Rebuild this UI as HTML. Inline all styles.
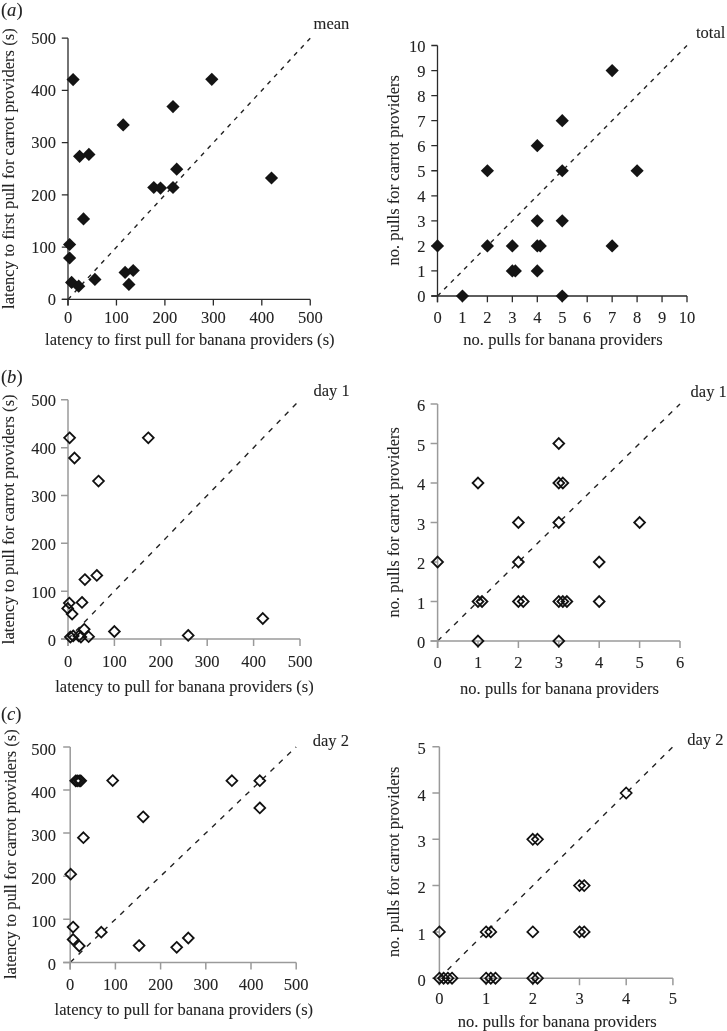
<!DOCTYPE html>
<html><head><meta charset="utf-8"><style>
html,body{margin:0;padding:0;background:#fff;}
svg{display:block;filter:grayscale(1);font-family:"Liberation Serif",serif;fill:#222;}
text{stroke:#222;stroke-width:0.08px;}
</style></head><body>
<svg width="727" height="1031" viewBox="0 0 727 1031">
<rect width="727" height="1031" fill="#fff"/>
<g>
<line x1="68.0" y1="299.4" x2="310.25" y2="38.15" stroke="#222" stroke-width="1.4" stroke-dasharray="4.4 5.38"/>
<path d="M61.80,299.4H310.25M68.0,38.15V305.60" stroke="#2a2a2a" stroke-width="1.3" fill="none"/>
<path d="M68.00,299.4v6.2M116.45,299.4v6.2M164.90,299.4v6.2M213.35,299.4v6.2M261.80,299.4v6.2M310.25,299.4v6.2M61.80,299.40h6.2M61.80,247.15h6.2M61.80,194.90h6.2M61.80,142.65h6.2M61.80,90.40h6.2M61.80,38.15h6.2" stroke="#2a2a2a" stroke-width="1.3" fill="none"/>
<text x="68.00" y="322.7" text-anchor="middle" font-size="16.5">0</text>
<text x="116.45" y="322.7" text-anchor="middle" font-size="16.5">100</text>
<text x="164.90" y="322.7" text-anchor="middle" font-size="16.5">200</text>
<text x="213.35" y="322.7" text-anchor="middle" font-size="16.5">300</text>
<text x="261.80" y="322.7" text-anchor="middle" font-size="16.5">400</text>
<text x="310.25" y="322.7" text-anchor="middle" font-size="16.5">500</text>
<text x="55.90" y="305.20" text-anchor="end" font-size="16.5">0</text>
<text x="55.90" y="252.95" text-anchor="end" font-size="16.5">100</text>
<text x="55.90" y="200.70" text-anchor="end" font-size="16.5">200</text>
<text x="55.90" y="148.45" text-anchor="end" font-size="16.5">300</text>
<text x="55.90" y="96.20" text-anchor="end" font-size="16.5">400</text>
<text x="55.90" y="43.95" text-anchor="end" font-size="16.5">500</text>
<path d="M73.10,73.00L79.70,79.60L73.10,86.20L66.50,79.60Z" fill="#141414"/>
<path d="M211.80,72.70L218.40,79.30L211.80,85.90L205.20,79.30Z" fill="#141414"/>
<path d="M173.00,100.00L179.60,106.60L173.00,113.20L166.40,106.60Z" fill="#141414"/>
<path d="M123.20,118.30L129.80,124.90L123.20,131.50L116.60,124.90Z" fill="#141414"/>
<path d="M79.60,149.70L86.20,156.30L79.60,162.90L73.00,156.30Z" fill="#141414"/>
<path d="M88.90,147.80L95.50,154.40L88.90,161.00L82.30,154.40Z" fill="#141414"/>
<path d="M176.70,162.60L183.30,169.20L176.70,175.80L170.10,169.20Z" fill="#141414"/>
<path d="M153.80,180.90L160.40,187.50L153.80,194.10L147.20,187.50Z" fill="#141414"/>
<path d="M160.50,181.50L167.10,188.10L160.50,194.70L153.90,188.10Z" fill="#141414"/>
<path d="M173.00,180.90L179.60,187.50L173.00,194.10L166.40,187.50Z" fill="#141414"/>
<path d="M271.50,171.40L278.10,178.00L271.50,184.60L264.90,178.00Z" fill="#141414"/>
<path d="M83.50,212.30L90.10,218.90L83.50,225.50L76.90,218.90Z" fill="#141414"/>
<path d="M69.60,237.90L76.20,244.50L69.60,251.10L63.00,244.50Z" fill="#141414"/>
<path d="M69.60,251.40L76.20,258.00L69.60,264.60L63.00,258.00Z" fill="#141414"/>
<path d="M71.60,275.80L78.20,282.40L71.60,289.00L65.00,282.40Z" fill="#141414"/>
<path d="M78.70,279.60L85.30,286.20L78.70,292.80L72.10,286.20Z" fill="#141414"/>
<path d="M94.90,272.80L101.50,279.40L94.90,286.00L88.30,279.40Z" fill="#141414"/>
<path d="M125.10,265.80L131.70,272.40L125.10,279.00L118.50,272.40Z" fill="#141414"/>
<path d="M133.20,263.90L139.80,270.50L133.20,277.10L126.60,270.50Z" fill="#141414"/>
<path d="M128.90,277.80L135.50,284.40L128.90,291.00L122.30,284.40Z" fill="#141414"/>
<text x="45.0" y="344.8" textLength="289.6" lengthAdjust="spacing" font-size="16.5">latency to first pull for banana providers (s)</text>
<text transform="translate(14.1,308.9) rotate(-90)" textLength="280.6" lengthAdjust="spacing" font-size="16.5">latency to first pull for carrot providers (s)</text>
<text x="313.6" y="28.9" font-size="16.5">mean</text>
</g>
<g>
<line x1="437.5" y1="296.0" x2="687.00" y2="45.50" stroke="#222" stroke-width="1.4" stroke-dasharray="4.3 5.14"/>
<path d="M431.30,296.0H687.00M437.5,45.50V302.20" stroke="#2a2a2a" stroke-width="1.3" fill="none"/>
<path d="M437.50,296.0v6.2M462.45,296.0v6.2M487.40,296.0v6.2M512.35,296.0v6.2M537.30,296.0v6.2M562.25,296.0v6.2M587.20,296.0v6.2M612.15,296.0v6.2M637.10,296.0v6.2M662.05,296.0v6.2M687.00,296.0v6.2M431.30,296.00h6.2M431.30,270.95h6.2M431.30,245.90h6.2M431.30,220.85h6.2M431.30,195.80h6.2M431.30,170.75h6.2M431.30,145.70h6.2M431.30,120.65h6.2M431.30,95.60h6.2M431.30,70.55h6.2M431.30,45.50h6.2" stroke="#2a2a2a" stroke-width="1.3" fill="none"/>
<text x="437.50" y="323.0" text-anchor="middle" font-size="16.5">0</text>
<text x="462.45" y="323.0" text-anchor="middle" font-size="16.5">1</text>
<text x="487.40" y="323.0" text-anchor="middle" font-size="16.5">2</text>
<text x="512.35" y="323.0" text-anchor="middle" font-size="16.5">3</text>
<text x="537.30" y="323.0" text-anchor="middle" font-size="16.5">4</text>
<text x="562.25" y="323.0" text-anchor="middle" font-size="16.5">5</text>
<text x="587.20" y="323.0" text-anchor="middle" font-size="16.5">6</text>
<text x="612.15" y="323.0" text-anchor="middle" font-size="16.5">7</text>
<text x="637.10" y="323.0" text-anchor="middle" font-size="16.5">8</text>
<text x="662.05" y="323.0" text-anchor="middle" font-size="16.5">9</text>
<text x="687.00" y="323.0" text-anchor="middle" font-size="16.5">10</text>
<text x="425.50" y="302.40" text-anchor="end" font-size="16.5">0</text>
<text x="425.50" y="277.35" text-anchor="end" font-size="16.5">1</text>
<text x="425.50" y="252.30" text-anchor="end" font-size="16.5">2</text>
<text x="425.50" y="227.25" text-anchor="end" font-size="16.5">3</text>
<text x="425.50" y="202.20" text-anchor="end" font-size="16.5">4</text>
<text x="425.50" y="177.15" text-anchor="end" font-size="16.5">5</text>
<text x="425.50" y="152.10" text-anchor="end" font-size="16.5">6</text>
<text x="425.50" y="127.05" text-anchor="end" font-size="16.5">7</text>
<text x="425.50" y="102.00" text-anchor="end" font-size="16.5">8</text>
<text x="425.50" y="76.95" text-anchor="end" font-size="16.5">9</text>
<text x="425.50" y="51.90" text-anchor="end" font-size="16.5">10</text>
<path d="M437.50,239.30L444.10,245.90L437.50,252.50L430.90,245.90Z" fill="#141414"/>
<path d="M462.45,289.40L469.05,296.00L462.45,302.60L455.85,296.00Z" fill="#141414"/>
<path d="M487.40,164.15L494.00,170.75L487.40,177.35L480.80,170.75Z" fill="#141414"/>
<path d="M487.40,239.30L494.00,245.90L487.40,252.50L480.80,245.90Z" fill="#141414"/>
<path d="M512.35,239.30L518.95,245.90L512.35,252.50L505.75,245.90Z" fill="#141414"/>
<path d="M512.35,264.35L518.95,270.95L512.35,277.55L505.75,270.95Z" fill="#141414"/>
<path d="M515.34,264.35L521.94,270.95L515.34,277.55L508.74,270.95Z" fill="#141414"/>
<path d="M537.30,139.10L543.90,145.70L537.30,152.30L530.70,145.70Z" fill="#141414"/>
<path d="M537.30,214.25L543.90,220.85L537.30,227.45L530.70,220.85Z" fill="#141414"/>
<path d="M537.30,239.30L543.90,245.90L537.30,252.50L530.70,245.90Z" fill="#141414"/>
<path d="M540.29,239.30L546.89,245.90L540.29,252.50L533.69,245.90Z" fill="#141414"/>
<path d="M537.30,264.35L543.90,270.95L537.30,277.55L530.70,270.95Z" fill="#141414"/>
<path d="M562.25,114.05L568.85,120.65L562.25,127.25L555.65,120.65Z" fill="#141414"/>
<path d="M562.25,164.15L568.85,170.75L562.25,177.35L555.65,170.75Z" fill="#141414"/>
<path d="M562.25,214.25L568.85,220.85L562.25,227.45L555.65,220.85Z" fill="#141414"/>
<path d="M562.25,289.40L568.85,296.00L562.25,302.60L555.65,296.00Z" fill="#141414"/>
<path d="M612.15,63.95L618.75,70.55L612.15,77.15L605.55,70.55Z" fill="#141414"/>
<path d="M612.15,239.30L618.75,245.90L612.15,252.50L605.55,245.90Z" fill="#141414"/>
<path d="M637.10,164.15L643.70,170.75L637.10,177.35L630.50,170.75Z" fill="#141414"/>
<text x="463.2" y="344.7" textLength="199.4" lengthAdjust="spacing" font-size="16.5">no. pulls for banana providers</text>
<text transform="translate(398.6,265.6) rotate(-90)" textLength="190.6" lengthAdjust="spacing" font-size="16.5">no. pulls for carrot providers</text>
<text x="696.0" y="37.6" font-size="16.5">total</text>
</g>
<g>
<line x1="68.0" y1="639.0" x2="300.00" y2="399.80" stroke="#222" stroke-width="1.4" stroke-dasharray="5.3 6.23"/>
<path d="M61.00,639.0H300.00M68.0,399.80V646.00" stroke="#9a9a9a" stroke-width="1.5" fill="none"/>
<path d="M68.00,639.0v7.0M114.40,639.0v7.0M160.80,639.0v7.0M207.20,639.0v7.0M253.60,639.0v7.0M300.00,639.0v7.0M61.00,639.00h7.0M61.00,591.16h7.0M61.00,543.32h7.0M61.00,495.48h7.0M61.00,447.64h7.0M61.00,399.80h7.0" stroke="#9a9a9a" stroke-width="1.5" fill="none"/>
<text x="68.00" y="666.9" text-anchor="middle" font-size="16.5">0</text>
<text x="114.40" y="666.9" text-anchor="middle" font-size="16.5">100</text>
<text x="160.80" y="666.9" text-anchor="middle" font-size="16.5">200</text>
<text x="207.20" y="666.9" text-anchor="middle" font-size="16.5">300</text>
<text x="253.60" y="666.9" text-anchor="middle" font-size="16.5">400</text>
<text x="300.00" y="666.9" text-anchor="middle" font-size="16.5">500</text>
<text x="55.90" y="645.60" text-anchor="end" font-size="16.5">0</text>
<text x="55.90" y="597.76" text-anchor="end" font-size="16.5">100</text>
<text x="55.90" y="549.92" text-anchor="end" font-size="16.5">200</text>
<text x="55.90" y="502.08" text-anchor="end" font-size="16.5">300</text>
<text x="55.90" y="454.24" text-anchor="end" font-size="16.5">400</text>
<text x="55.90" y="406.40" text-anchor="end" font-size="16.5">500</text>
<path d="M69.60,432.40L75.00,437.80L69.60,443.20L64.20,437.80Z" fill="none" stroke="#111" stroke-width="1.8" stroke-linejoin="miter"/>
<path d="M148.30,432.40L153.70,437.80L148.30,443.20L142.90,437.80Z" fill="none" stroke="#111" stroke-width="1.8" stroke-linejoin="miter"/>
<path d="M74.50,452.60L79.90,458.00L74.50,463.40L69.10,458.00Z" fill="none" stroke="#111" stroke-width="1.8" stroke-linejoin="miter"/>
<path d="M98.50,475.70L103.90,481.10L98.50,486.50L93.10,481.10Z" fill="none" stroke="#111" stroke-width="1.8" stroke-linejoin="miter"/>
<path d="M84.90,574.20L90.30,579.60L84.90,585.00L79.50,579.60Z" fill="none" stroke="#111" stroke-width="1.8" stroke-linejoin="miter"/>
<path d="M96.80,570.00L102.20,575.40L96.80,580.80L91.40,575.40Z" fill="none" stroke="#111" stroke-width="1.8" stroke-linejoin="miter"/>
<path d="M82.00,597.00L87.40,602.40L82.00,607.80L76.60,602.40Z" fill="none" stroke="#111" stroke-width="1.8" stroke-linejoin="miter"/>
<path d="M69.30,597.70L74.70,603.10L69.30,608.50L63.90,603.10Z" fill="none" stroke="#111" stroke-width="1.8" stroke-linejoin="miter"/>
<path d="M67.70,603.00L73.10,608.40L67.70,613.80L62.30,608.40Z" fill="none" stroke="#111" stroke-width="1.8" stroke-linejoin="miter"/>
<path d="M72.10,608.70L77.50,614.10L72.10,619.50L66.70,614.10Z" fill="none" stroke="#111" stroke-width="1.8" stroke-linejoin="miter"/>
<path d="M114.40,626.10L119.80,631.50L114.40,636.90L109.00,631.50Z" fill="none" stroke="#111" stroke-width="1.8" stroke-linejoin="miter"/>
<path d="M84.20,623.90L89.60,629.30L84.20,634.70L78.80,629.30Z" fill="none" stroke="#111" stroke-width="1.8" stroke-linejoin="miter"/>
<path d="M88.60,631.30L94.00,636.70L88.60,642.10L83.20,636.70Z" fill="none" stroke="#111" stroke-width="1.8" stroke-linejoin="miter"/>
<path d="M70.40,631.60L75.80,637.00L70.40,642.40L65.00,637.00Z" fill="none" stroke="#111" stroke-width="1.8" stroke-linejoin="miter"/>
<path d="M73.20,630.50L78.60,635.90L73.20,641.30L67.80,635.90Z" fill="none" stroke="#111" stroke-width="1.8" stroke-linejoin="miter"/>
<path d="M78.70,630.50L84.10,635.90L78.70,641.30L73.30,635.90Z" fill="none" stroke="#111" stroke-width="1.8" stroke-linejoin="miter"/>
<path d="M80.90,631.60L86.30,637.00L80.90,642.40L75.50,637.00Z" fill="none" stroke="#111" stroke-width="1.8" stroke-linejoin="miter"/>
<path d="M188.20,630.00L193.60,635.40L188.20,640.80L182.80,635.40Z" fill="none" stroke="#111" stroke-width="1.8" stroke-linejoin="miter"/>
<path d="M262.80,613.10L268.20,618.50L262.80,623.90L257.40,618.50Z" fill="none" stroke="#111" stroke-width="1.8" stroke-linejoin="miter"/>
<text x="55.2" y="691.9" textLength="258.6" lengthAdjust="spacing" font-size="16.5">latency to pull for banana providers (s)</text>
<text transform="translate(14.1,644.2) rotate(-90)" textLength="249.8" lengthAdjust="spacing" font-size="16.5">latency to pull for carrot providers (s)</text>
<text x="313.5" y="395.5" font-size="16.5">day 1</text>
</g>
<g>
<line x1="437.6" y1="641.0" x2="680.00" y2="404.00" stroke="#222" stroke-width="1.4" stroke-dasharray="5.3 6.23"/>
<path d="M430.60,641.0H680.00M437.6,404.00V648.00" stroke="#9a9a9a" stroke-width="1.5" fill="none"/>
<path d="M437.60,641.0v7.0M478.00,641.0v7.0M518.40,641.0v7.0M558.80,641.0v7.0M599.20,641.0v7.0M639.60,641.0v7.0M680.00,641.0v7.0M430.60,641.00h7.0M430.60,601.50h7.0M430.60,562.00h7.0M430.60,522.50h7.0M430.60,483.00h7.0M430.60,443.50h7.0M430.60,404.00h7.0" stroke="#9a9a9a" stroke-width="1.5" fill="none"/>
<text x="437.60" y="667.6" text-anchor="middle" font-size="16.5">0</text>
<text x="478.00" y="667.6" text-anchor="middle" font-size="16.5">1</text>
<text x="518.40" y="667.6" text-anchor="middle" font-size="16.5">2</text>
<text x="558.80" y="667.6" text-anchor="middle" font-size="16.5">3</text>
<text x="599.20" y="667.6" text-anchor="middle" font-size="16.5">4</text>
<text x="639.60" y="667.6" text-anchor="middle" font-size="16.5">5</text>
<text x="680.00" y="667.6" text-anchor="middle" font-size="16.5">6</text>
<text x="425.20" y="648.30" text-anchor="end" font-size="16.5">0</text>
<text x="425.20" y="608.80" text-anchor="end" font-size="16.5">1</text>
<text x="425.20" y="569.30" text-anchor="end" font-size="16.5">2</text>
<text x="425.20" y="529.80" text-anchor="end" font-size="16.5">3</text>
<text x="425.20" y="490.30" text-anchor="end" font-size="16.5">4</text>
<text x="425.20" y="450.80" text-anchor="end" font-size="16.5">5</text>
<text x="425.20" y="411.30" text-anchor="end" font-size="16.5">6</text>
<path d="M437.60,556.60L443.00,562.00L437.60,567.40L432.20,562.00Z" fill="none" stroke="#111" stroke-width="1.8" stroke-linejoin="miter"/>
<path d="M478.00,477.60L483.40,483.00L478.00,488.40L472.60,483.00Z" fill="none" stroke="#111" stroke-width="1.8" stroke-linejoin="miter"/>
<path d="M478.00,596.10L483.40,601.50L478.00,606.90L472.60,601.50Z" fill="none" stroke="#111" stroke-width="1.8" stroke-linejoin="miter"/>
<path d="M482.04,596.10L487.44,601.50L482.04,606.90L476.64,601.50Z" fill="none" stroke="#111" stroke-width="1.8" stroke-linejoin="miter"/>
<path d="M478.00,635.60L483.40,641.00L478.00,646.40L472.60,641.00Z" fill="none" stroke="#111" stroke-width="1.8" stroke-linejoin="miter"/>
<path d="M518.40,517.10L523.80,522.50L518.40,527.90L513.00,522.50Z" fill="none" stroke="#111" stroke-width="1.8" stroke-linejoin="miter"/>
<path d="M518.40,556.60L523.80,562.00L518.40,567.40L513.00,562.00Z" fill="none" stroke="#111" stroke-width="1.8" stroke-linejoin="miter"/>
<path d="M518.40,596.10L523.80,601.50L518.40,606.90L513.00,601.50Z" fill="none" stroke="#111" stroke-width="1.8" stroke-linejoin="miter"/>
<path d="M523.25,596.10L528.65,601.50L523.25,606.90L517.85,601.50Z" fill="none" stroke="#111" stroke-width="1.8" stroke-linejoin="miter"/>
<path d="M558.80,438.10L564.20,443.50L558.80,448.90L553.40,443.50Z" fill="none" stroke="#111" stroke-width="1.8" stroke-linejoin="miter"/>
<path d="M558.80,477.60L564.20,483.00L558.80,488.40L553.40,483.00Z" fill="none" stroke="#111" stroke-width="1.8" stroke-linejoin="miter"/>
<path d="M562.84,477.60L568.24,483.00L562.84,488.40L557.44,483.00Z" fill="none" stroke="#111" stroke-width="1.8" stroke-linejoin="miter"/>
<path d="M558.80,517.10L564.20,522.50L558.80,527.90L553.40,522.50Z" fill="none" stroke="#111" stroke-width="1.8" stroke-linejoin="miter"/>
<path d="M558.80,596.10L564.20,601.50L558.80,606.90L553.40,601.50Z" fill="none" stroke="#111" stroke-width="1.8" stroke-linejoin="miter"/>
<path d="M562.84,596.10L568.24,601.50L562.84,606.90L557.44,601.50Z" fill="none" stroke="#111" stroke-width="1.8" stroke-linejoin="miter"/>
<path d="M566.88,596.10L572.28,601.50L566.88,606.90L561.48,601.50Z" fill="none" stroke="#111" stroke-width="1.8" stroke-linejoin="miter"/>
<path d="M558.80,635.60L564.20,641.00L558.80,646.40L553.40,641.00Z" fill="none" stroke="#111" stroke-width="1.8" stroke-linejoin="miter"/>
<path d="M599.20,556.60L604.60,562.00L599.20,567.40L593.80,562.00Z" fill="none" stroke="#111" stroke-width="1.8" stroke-linejoin="miter"/>
<path d="M599.20,596.10L604.60,601.50L599.20,606.90L593.80,601.50Z" fill="none" stroke="#111" stroke-width="1.8" stroke-linejoin="miter"/>
<path d="M639.60,517.10L645.00,522.50L639.60,527.90L634.20,522.50Z" fill="none" stroke="#111" stroke-width="1.8" stroke-linejoin="miter"/>
<text x="460.0" y="693.5" textLength="198.9" lengthAdjust="spacing" font-size="16.5">no. pulls for banana providers</text>
<text transform="translate(398.5,617.6) rotate(-90)" textLength="190.6" lengthAdjust="spacing" font-size="16.5">no. pulls for carrot providers</text>
<text x="690.6" y="396.7" font-size="16.5">day 1</text>
</g>
<g>
<line x1="70.2" y1="962.4" x2="296.20" y2="746.90" stroke="#222" stroke-width="1.4" stroke-dasharray="5.3 6.23"/>
<path d="M63.20,962.4H296.20M70.2,746.90V969.40" stroke="#9a9a9a" stroke-width="1.5" fill="none"/>
<path d="M70.20,962.4v7.0M115.40,962.4v7.0M160.60,962.4v7.0M205.80,962.4v7.0M251.00,962.4v7.0M296.20,962.4v7.0M63.20,962.40h7.0M63.20,919.30h7.0M63.20,876.20h7.0M63.20,833.10h7.0M63.20,790.00h7.0M63.20,746.90h7.0" stroke="#9a9a9a" stroke-width="1.5" fill="none"/>
<text x="70.20" y="989.6" text-anchor="middle" font-size="16.5">0</text>
<text x="115.40" y="989.6" text-anchor="middle" font-size="16.5">100</text>
<text x="160.60" y="989.6" text-anchor="middle" font-size="16.5">200</text>
<text x="205.80" y="989.6" text-anchor="middle" font-size="16.5">300</text>
<text x="251.00" y="989.6" text-anchor="middle" font-size="16.5">400</text>
<text x="296.20" y="989.6" text-anchor="middle" font-size="16.5">500</text>
<text x="55.90" y="970.00" text-anchor="end" font-size="16.5">0</text>
<text x="55.90" y="926.90" text-anchor="end" font-size="16.5">100</text>
<text x="55.90" y="883.80" text-anchor="end" font-size="16.5">200</text>
<text x="55.90" y="840.70" text-anchor="end" font-size="16.5">300</text>
<text x="55.90" y="797.60" text-anchor="end" font-size="16.5">400</text>
<text x="55.90" y="754.50" text-anchor="end" font-size="16.5">500</text>
<path d="M75.70,775.40L81.10,780.80L75.70,786.20L70.30,780.80Z" fill="none" stroke="#111" stroke-width="1.8" stroke-linejoin="miter"/>
<path d="M77.20,775.40L82.60,780.80L77.20,786.20L71.80,780.80Z" fill="none" stroke="#111" stroke-width="1.8" stroke-linejoin="miter"/>
<path d="M79.20,775.40L84.60,780.80L79.20,786.20L73.80,780.80Z" fill="none" stroke="#111" stroke-width="1.8" stroke-linejoin="miter"/>
<path d="M80.70,775.40L86.10,780.80L80.70,786.20L75.30,780.80Z" fill="none" stroke="#111" stroke-width="1.8" stroke-linejoin="miter"/>
<path d="M112.70,775.20L118.10,780.60L112.70,786.00L107.30,780.60Z" fill="none" stroke="#111" stroke-width="1.8" stroke-linejoin="miter"/>
<path d="M143.20,811.40L148.60,816.80L143.20,822.20L137.80,816.80Z" fill="none" stroke="#111" stroke-width="1.8" stroke-linejoin="miter"/>
<path d="M83.40,832.30L88.80,837.70L83.40,843.10L78.00,837.70Z" fill="none" stroke="#111" stroke-width="1.8" stroke-linejoin="miter"/>
<path d="M70.70,868.80L76.10,874.20L70.70,879.60L65.30,874.20Z" fill="none" stroke="#111" stroke-width="1.8" stroke-linejoin="miter"/>
<path d="M73.10,921.70L78.50,927.10L73.10,932.50L67.70,927.10Z" fill="none" stroke="#111" stroke-width="1.8" stroke-linejoin="miter"/>
<path d="M73.10,934.10L78.50,939.50L73.10,944.90L67.70,939.50Z" fill="none" stroke="#111" stroke-width="1.8" stroke-linejoin="miter"/>
<path d="M79.30,940.60L84.70,946.00L79.30,951.40L73.90,946.00Z" fill="none" stroke="#111" stroke-width="1.8" stroke-linejoin="miter"/>
<path d="M101.30,926.80L106.70,932.20L101.30,937.60L95.90,932.20Z" fill="none" stroke="#111" stroke-width="1.8" stroke-linejoin="miter"/>
<path d="M139.10,940.20L144.50,945.60L139.10,951.00L133.70,945.60Z" fill="none" stroke="#111" stroke-width="1.8" stroke-linejoin="miter"/>
<path d="M231.90,775.30L237.30,780.70L231.90,786.10L226.50,780.70Z" fill="none" stroke="#111" stroke-width="1.8" stroke-linejoin="miter"/>
<path d="M259.80,775.30L265.20,780.70L259.80,786.10L254.40,780.70Z" fill="none" stroke="#111" stroke-width="1.8" stroke-linejoin="miter"/>
<path d="M259.80,802.50L265.20,807.90L259.80,813.30L254.40,807.90Z" fill="none" stroke="#111" stroke-width="1.8" stroke-linejoin="miter"/>
<path d="M188.30,932.60L193.70,938.00L188.30,943.40L182.90,938.00Z" fill="none" stroke="#111" stroke-width="1.8" stroke-linejoin="miter"/>
<path d="M176.70,941.90L182.10,947.30L176.70,952.70L171.30,947.30Z" fill="none" stroke="#111" stroke-width="1.8" stroke-linejoin="miter"/>
<text x="54.5" y="1015.0" textLength="258.6" lengthAdjust="spacing" font-size="16.5">latency to pull for banana providers (s)</text>
<text transform="translate(15.7,979.0) rotate(-90)" textLength="249.8" lengthAdjust="spacing" font-size="16.5">latency to pull for carrot providers (s)</text>
<text x="312.8" y="745.8" font-size="16.5">day 2</text>
</g>
<g>
<line x1="439.4" y1="978.2" x2="672.90" y2="746.70" stroke="#222" stroke-width="1.4" stroke-dasharray="5.3 6.23"/>
<path d="M432.40,978.2H672.90M439.4,746.70V985.20" stroke="#9a9a9a" stroke-width="1.5" fill="none"/>
<path d="M439.40,978.2v7.0M486.10,978.2v7.0M532.80,978.2v7.0M579.50,978.2v7.0M626.20,978.2v7.0M672.90,978.2v7.0M432.40,978.20h7.0M432.40,931.90h7.0M432.40,885.60h7.0M432.40,839.30h7.0M432.40,793.00h7.0M432.40,746.70h7.0" stroke="#9a9a9a" stroke-width="1.5" fill="none"/>
<text x="439.40" y="1003.6" text-anchor="middle" font-size="16.5">0</text>
<text x="486.10" y="1003.6" text-anchor="middle" font-size="16.5">1</text>
<text x="532.80" y="1003.6" text-anchor="middle" font-size="16.5">2</text>
<text x="579.50" y="1003.6" text-anchor="middle" font-size="16.5">3</text>
<text x="626.20" y="1003.6" text-anchor="middle" font-size="16.5">4</text>
<text x="672.90" y="1003.6" text-anchor="middle" font-size="16.5">5</text>
<text x="425.80" y="985.80" text-anchor="end" font-size="16.5">0</text>
<text x="425.80" y="939.50" text-anchor="end" font-size="16.5">1</text>
<text x="425.80" y="893.20" text-anchor="end" font-size="16.5">2</text>
<text x="425.80" y="846.90" text-anchor="end" font-size="16.5">3</text>
<text x="425.80" y="800.60" text-anchor="end" font-size="16.5">4</text>
<text x="425.80" y="754.30" text-anchor="end" font-size="16.5">5</text>
<path d="M439.40,926.40L444.90,931.90L439.40,937.40L433.90,931.90Z" fill="none" stroke="#111" stroke-width="1.7" stroke-linejoin="miter"/>
<path d="M486.10,926.40L491.60,931.90L486.10,937.40L480.60,931.90Z" fill="none" stroke="#111" stroke-width="1.7" stroke-linejoin="miter"/>
<path d="M490.77,926.40L496.27,931.90L490.77,937.40L485.27,931.90Z" fill="none" stroke="#111" stroke-width="1.7" stroke-linejoin="miter"/>
<path d="M532.80,926.40L538.30,931.90L532.80,937.40L527.30,931.90Z" fill="none" stroke="#111" stroke-width="1.7" stroke-linejoin="miter"/>
<path d="M579.50,926.40L585.00,931.90L579.50,937.40L574.00,931.90Z" fill="none" stroke="#111" stroke-width="1.7" stroke-linejoin="miter"/>
<path d="M584.17,926.40L589.67,931.90L584.17,937.40L578.67,931.90Z" fill="none" stroke="#111" stroke-width="1.7" stroke-linejoin="miter"/>
<path d="M439.40,972.70L444.90,978.20L439.40,983.70L433.90,978.20Z" fill="none" stroke="#111" stroke-width="1.7" stroke-linejoin="miter"/>
<path d="M443.60,972.70L449.10,978.20L443.60,983.70L438.10,978.20Z" fill="none" stroke="#111" stroke-width="1.7" stroke-linejoin="miter"/>
<path d="M447.81,972.70L453.31,978.20L447.81,983.70L442.31,978.20Z" fill="none" stroke="#111" stroke-width="1.7" stroke-linejoin="miter"/>
<path d="M452.01,972.70L457.51,978.20L452.01,983.70L446.51,978.20Z" fill="none" stroke="#111" stroke-width="1.7" stroke-linejoin="miter"/>
<path d="M486.10,972.70L491.60,978.20L486.10,983.70L480.60,978.20Z" fill="none" stroke="#111" stroke-width="1.7" stroke-linejoin="miter"/>
<path d="M490.77,972.70L496.27,978.20L490.77,983.70L485.27,978.20Z" fill="none" stroke="#111" stroke-width="1.7" stroke-linejoin="miter"/>
<path d="M495.44,972.70L500.94,978.20L495.44,983.70L489.94,978.20Z" fill="none" stroke="#111" stroke-width="1.7" stroke-linejoin="miter"/>
<path d="M532.80,972.70L538.30,978.20L532.80,983.70L527.30,978.20Z" fill="none" stroke="#111" stroke-width="1.7" stroke-linejoin="miter"/>
<path d="M537.47,972.70L542.97,978.20L537.47,983.70L531.97,978.20Z" fill="none" stroke="#111" stroke-width="1.7" stroke-linejoin="miter"/>
<path d="M532.80,833.80L538.30,839.30L532.80,844.80L527.30,839.30Z" fill="none" stroke="#111" stroke-width="1.7" stroke-linejoin="miter"/>
<path d="M537.47,833.80L542.97,839.30L537.47,844.80L531.97,839.30Z" fill="none" stroke="#111" stroke-width="1.7" stroke-linejoin="miter"/>
<path d="M579.50,880.10L585.00,885.60L579.50,891.10L574.00,885.60Z" fill="none" stroke="#111" stroke-width="1.7" stroke-linejoin="miter"/>
<path d="M584.17,880.10L589.67,885.60L584.17,891.10L578.67,885.60Z" fill="none" stroke="#111" stroke-width="1.7" stroke-linejoin="miter"/>
<path d="M626.20,787.50L631.70,793.00L626.20,798.50L620.70,793.00Z" fill="none" stroke="#111" stroke-width="1.7" stroke-linejoin="miter"/>
<text x="457.7" y="1027.3" textLength="198.9" lengthAdjust="spacing" font-size="16.5">no. pulls for banana providers</text>
<text transform="translate(398.6,957.1) rotate(-90)" textLength="190.6" lengthAdjust="spacing" font-size="16.5">no. pulls for carrot providers</text>
<text x="687.2" y="744.7" font-size="16.5">day 2</text>
</g>
<text x="0.9" y="15.6" font-size="18.6">(<tspan font-style="italic">a</tspan>)</text>
<text x="0.9" y="382.9" font-size="18.6">(<tspan font-style="italic">b</tspan>)</text>
<text x="0.9" y="720.2" font-size="18.6">(<tspan font-style="italic">c</tspan>)</text>
</svg></body></html>
